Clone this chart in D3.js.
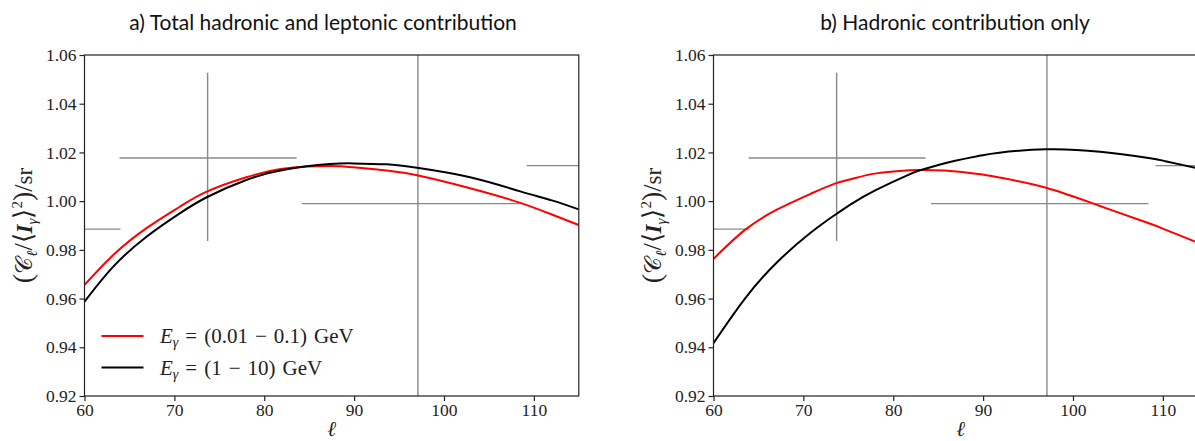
<!DOCTYPE html>
<html>
<head>
<meta charset="utf-8">
<script src="https://cdn.jsdelivr.net/npm/d3@7"></script>
<style>
  body { margin: 0; background: #fff; }
  .title { font-family: Lato, "Open Sans", sans-serif; font-size: 21px; fill: #111; }
  .lab { font-family: "Liberation Serif", serif; fill: #222; }
</style>
</head>
<body>
<div id="chart"></div>
<script>
var svgWidth = 1195;
var svgHeight = 441;

// x values
var ellA = [60, 63.2, 66.9, 70.6, 73.6, 78, 82.5, 87.3, 89.9, 93.6, 97, 102.9, 108.4, 112, 115];
var redA = [0.9656, 0.9779, 0.9889, 0.9977, 1.0039, 1.0098, 1.0135, 1.0144, 1.0139, 1.0126, 1.0106, 1.0053, 0.9994, 0.9945, 0.9902];
var blackA = [0.9587, 0.9731, 0.9854, 0.9950, 1.0016, 1.0087, 1.0131, 1.0152, 1.0155, 1.0151, 1.0137, 1.0098, 1.0041, 1.0003, 0.9966];

var ellB = [60, 63.5, 67.1, 70.8, 73.5, 75.4, 78.1, 81.8, 83.3, 86.3, 89.7, 91.8, 97, 103, 108.6, 110.4, 113.6, 115];
var redB = [0.9763, 0.9882, 0.9966, 1.0030, 1.0072, 1.0091, 1.0114, 1.0127, 1.0128, 1.0124, 1.0110, 1.0097, 1.0055, 0.9980, 0.9907, 0.9881, 0.9834, 0.9812];
var blackB = [0.9417, 0.9600, 0.9750, 0.9870, 0.9943, 0.9990, 1.0046, 1.0110, 1.0130, 1.0161, 1.0187, 1.0199, 1.0213, 1.0203, 1.0176, 1.0163, 1.0137, 1.0124];

// data points with error bars
var ptX = [54, 73.7, 97.1, 122];
var ptY = [0.9885, 1.0177, 0.9990, 1.0146];
var ptXlo = [44, 63.9, 84.2, 109.2];
var ptXhi = [64.0, 83.6, 108.4, 135];
var ptYlo = [0.95, 0.9836, 0.88, 0.97];
var ptYhi = [1.03, 1.0527, 1.12, 1.06];

var yTicks = [0.92, 0.94, 0.96, 0.98, 1.00, 1.02, 1.04, 1.06];
var xTicks = [60, 70, 80, 90, 100, 110];

var svg = d3.select("#chart").append("svg")
  .attr("width", svgWidth)
  .attr("height", svgHeight);

function drawPanel(left, id, title, titleX, ell, red, black, legend) {
  var plotW = 494.3, top = 55, bottom = 396;

  var x = d3.scaleLinear().domain([60, 115]).range([left, left + plotW]);
  var y = d3.scaleLinear().domain([0.92, 1.06]).range([bottom, top]);

  svg.append("clipPath").attr("id", id)
    .append("rect")
    .attr("x", left).attr("y", top)
    .attr("width", plotW).attr("height", bottom - top);

  var g = svg.append("g").attr("clip-path", "url(#" + id + ")");

  // error bars
  ptX.forEach(function(d, i) {
    g.append("line")
      .attr("x1", x(ptXlo[i])).attr("x2", x(ptXhi[i]))
      .attr("y1", y(ptY[i])).attr("y2", y(ptY[i]))
      .attr("stroke", "#888").attr("stroke-width", 1.4);
    g.append("line")
      .attr("x1", x(d)).attr("x2", x(d))
      .attr("y1", y(ptYlo[i])).attr("y2", y(ptYhi[i]))
      .attr("stroke", "#888").attr("stroke-width", 1.4);
  });

  var line = d3.line()
    .x(function(d) { return x(d[0]); })
    .y(function(d) { return y(d[1]); })
    .curve(d3.curveNatural);

  g.append("path")
    .datum(d3.zip(ell, red))
    .attr("d", line)
    .attr("fill", "none").attr("stroke", "#f00").attr("stroke-width", 2);

  g.append("path")
    .datum(d3.zip(ell, black))
    .attr("d", line)
    .attr("fill", "none").attr("stroke", "#000").attr("stroke-width", 2);

  // frame
  svg.append("rect")
    .attr("x", left).attr("y", top)
    .attr("width", plotW).attr("height", bottom - top)
    .attr("fill", "none").attr("stroke", "#222").attr("stroke-width", 1.2);

  var xAxis = svg.append("g")
    .attr("transform", `translate(0, ${bottom})`)
    .call(d3.axisBottom(x).tickValues(xTicks).tickSize(5).tickPadding(3));
  var yAxis = svg.append("g")
    .attr("transform", `translate(${left}, 0)`)
    .call(d3.axisLeft(y).tickValues(yTicks).tickFormat(d3.format(".2f")).tickSize(5).tickPadding(3));
  [xAxis, yAxis].forEach(function(a) {
    a.attr("font-family", "'Liberation Serif', serif").attr("font-size", 17.5);
    a.select(".domain").remove();
    a.selectAll(".tick line").attr("stroke", "#222").attr("stroke-width", 1.2);
    a.selectAll(".tick text").attr("fill", "#222");
  });

  svg.append("text").attr("class", "title")
    .attr("x", titleX).attr("y", 30)
    .attr("text-anchor", "middle")
    .text(title);

  // x label
  svg.append("text").attr("class", "lab")
    .attr("x", left + plotW / 2).attr("y", 436)
    .attr("text-anchor", "middle")
    .attr("font-size", 21).attr("font-style", "italic")
    .text("ℓ");

  // y label
  var yl = svg.append("text").attr("class", "lab")
    .attr("transform", `translate(${left - 53}, ${(top + bottom) / 2}) rotate(-90)`)
    .attr("text-anchor", "middle")
    .attr("font-size", 23);
  yl.append("tspan").attr("font-size", 28).text("(");
  yl.append("tspan").text("𝒞");
  yl.append("tspan").attr("font-style", "italic").attr("font-size", 15).attr("dy", 5).text("ℓ");
  yl.append("tspan").attr("dy", -5).attr("font-size", 26).text("/⟨");
  yl.append("tspan").attr("font-style", "italic").attr("font-weight", "bold").text("I");
  yl.append("tspan").attr("font-style", "italic").attr("font-size", 15).attr("dy", 5).text("γ");
  yl.append("tspan").attr("dy", -5).attr("font-size", 26).text("⟩");
  yl.append("tspan").attr("font-size", 15).attr("dy", -10).text("2");
  yl.append("tspan").attr("font-size", 28).attr("dy", 10).text(")");
  yl.append("tspan").attr("font-size", 26).text("/");
  yl.append("tspan").text("sr");

  if (legend) {
    var items = [
      { color: "#f00", range: "(0.01\u2004−\u20040.1)\u2004GeV" },
      { color: "#000", range: "(1\u2004−\u200410)\u2004GeV" }
    ];
    items.forEach(function(it, i) {
      var ly = 336 + i * 31.5;
      svg.append("line")
        .attr("x1", 101.5).attr("x2", 143.5)
        .attr("y1", ly).attr("y2", ly)
        .attr("stroke", it.color).attr("stroke-width", 2);
      var t = svg.append("text").attr("class", "lab")
        .attr("x", 160).attr("y", ly + 7)
        .attr("font-size", 21);
      t.append("tspan").attr("font-style", "italic").text("E");
      t.append("tspan").attr("font-style", "italic").attr("font-size", 14).attr("dy", 4).text("γ");
      t.append("tspan").attr("dy", -4).text("\u2004=\u2004" + it.range);
    });
  }
}

drawPanel(84.5, "clipA", "a) Total hadronic and leptonic contribution", 323, ellA, redA, blackA, true);
drawPanel(713.5, "clipB", "b) Hadronic contribution only", 955, ellB, redB, blackB, false);
</script>
</body>
</html>
